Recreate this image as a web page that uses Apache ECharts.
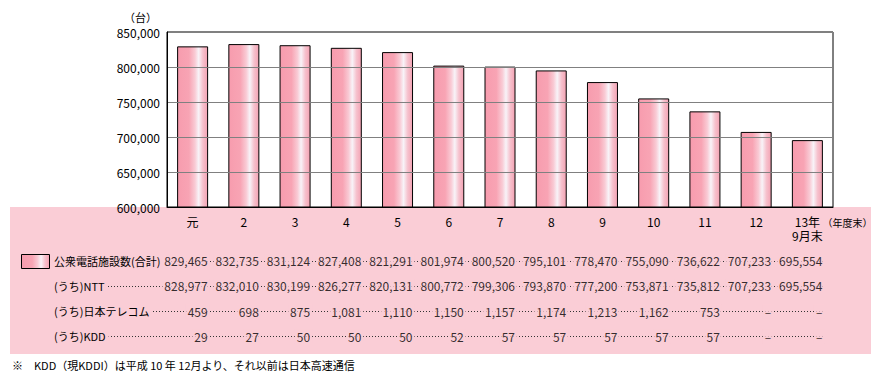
<!DOCTYPE html>
<html><head><meta charset="utf-8">
<script src="https://cdn.jsdelivr.net/npm/echarts@6/dist/echarts.min.js"></script>
<style>html,body{margin:0;padding:0;background:#fff}#c{width:882px;height:385px}</style>
</head><body><div id="c"></div>
<script>
// ---- data ----
const categories = ['元','2','3','4','5','6','7','8','9','10','11','12','13年\n9月末'];
const totalPhones = [829465, 832735, 831124, 827408, 821291, 801974, 800520, 795101, 778470, 755090, 736622, 707233, 695554];
const nttPhones   = [828977, 832010, 830199, 826277, 820131, 800772, 799306, 793870, 777200, 753871, 735812, 707233, 695554];
const jtPhones    = [459, 698, 875, 1081, 1110, 1150, 1157, 1174, 1213, 1162, 753, null, null];
const kddPhones   = [29, 27, 50, 50, 50, 52, 57, 57, 57, 57, 57, null, null];
const rowLabels = ['公衆電話施設数(合計)', '(うち)NTT', '(うち)日本テレコム', '(うち)KDD'];
const yMin = 600000, yMax = 850000, yInterval = 50000;
const unitLabel = '（台）';
const periodLabel = '（年度末）';
const footnote = '※　KDD（現KDDI）は平成 10 年 12月より、それ以前は日本高速通信';

// ---- style ----
const FONT = "'Noto Sans CJK JP', 'Noto Sans', sans-serif";
const PINK = '#facdd6';
const fmt = v => v == null ? '–' : v.toLocaleString('en-US');
const gradStops = [
  {offset: 0, color: '#f79cae'},
  {offset: 0.38, color: '#f8a4b4'},
  {offset: 0.58, color: '#f9cbd5'},
  {offset: 0.7, color: '#f8f3f8'},
  {offset: 0.84, color: '#f6c1cd'},
  {offset: 1, color: '#f4a2b3'}
];
const barGrad = new echarts.graphic.LinearGradient(0, 0, 1, 0, gradStops);

const tableRows = [totalPhones, nttPhones, jtPhones, kddPhones];
const tableData = [];
tableRows.forEach((row, r) => row.forEach((v, i) => tableData.push({value: [i, r], raw: v})));

const chart = echarts.init(document.getElementById('c'), null, {renderer: 'svg'});
chart.setOption({
  animation: false,
  textStyle: {fontFamily: FONT},
  grid: [
    {left: 167, right: 49, top: 32, bottom: 178, show: true, borderColor: '#000', borderWidth: 1, backgroundColor: '#fff', z: 3},
    {left: 167, right: 49, top: 248, height: 101}
  ],
  xAxis: [
    {type: 'category', gridIndex: 0, data: categories, z: 5,
     axisLine: {lineStyle: {color: '#000', width: 1}},
     axisTick: {inside: true, length: 5, lineStyle: {color: '#000'}},
     axisLabel: {color: '#000', fontSize: 12, margin: 7, lineHeight: 14, fontFamily: FONT}
    },
    {type: 'category', gridIndex: 1, data: categories, show: false}
  ],
  yAxis: [
    {type: 'value', gridIndex: 0, min: yMin, max: yMax, interval: yInterval, z: 5,
     axisLine: {show: true, lineStyle: {color: '#000'}},
     axisTick: {show: false},
     splitLine: {lineStyle: {color: '#808080', width: 1}},
     axisLabel: {color: '#000', fontSize: 12, margin: 7, formatter: v => fmt(v), fontFamily: FONT},
     name: unitLabel, nameLocation: 'end', nameGap: 10,
     nameTextStyle: {color: '#000', fontSize: 11, align: 'right', padding: [0, 10, 0, 0], fontFamily: FONT}
    },
    {type: 'category', gridIndex: 1, data: rowLabels, inverse: true, z: 10,
     axisLine: {show: false}, axisTick: {show: false}, splitLine: {show: false},
     axisLabel: {color: '#000', fontSize: 11, align: 'left', margin: 113, fontFamily: FONT,
       formatter: (v, i) => i === 0 ? '' : v, backgroundColor: PINK, padding: [1, 3, 1, 0]}
    }
  ],
  series: [
    {name: rowLabels[0], type: 'bar', xAxisIndex: 0, yAxisIndex: 0, data: totalPhones, barWidth: 31, z: 4,
     itemStyle: {color: barGrad, borderColor: '#000', borderWidth: 1}},
    {type: 'scatter', xAxisIndex: 1, yAxisIndex: 1, data: tableData, symbolSize: 0, z: 10, silent: true,
     label: {show: true, position: [17, 0], align: 'right', verticalAlign: 'middle', color: '#000', fontSize: 12,
       fontFamily: FONT, backgroundColor: PINK, padding: [1, 2], formatter: p => fmt(p.data.raw)}}
  ]
});

// table decorations: background, legend swatch, leaders, first row label, period note, footnote
const g = [];
g.push({type: 'rect', shape: {x: 10, y: 207, width: 861, height: 147}, style: {fill: PINK}, z: -10, silent: true});
const endX = chart.convertToPixel({xAxisIndex: 1}, categories.length - 1) + 17;
rowLabels.forEach((lab, r) => {
  const y = Math.round(chart.convertToPixel({yAxisIndex: 1}, r)) + 0.5;
  g.push({type: 'line', shape: {x1: 54, y1: y, x2: endX, y2: y},
    style: {stroke: '#333', lineWidth: 1, lineDash: [1, 2]}, z: 1, silent: true});
});
const y0 = chart.convertToPixel({yAxisIndex: 1}, 0);
g.push({type: 'rect', shape: {x: 21.5, y: Math.round(y0) - 6.5, width: 28, height: 14},
  style: {fill: new echarts.graphic.LinearGradient(0, 0, 1, 0, gradStops), stroke: '#000', lineWidth: 1}, z: 20});
g.push({type: 'text', left: 54, top: y0 - 8, z: 20,
  style: {text: rowLabels[0], fill: '#000', font: '11px ' + FONT, backgroundColor: PINK, padding: [1, 3, 1, 0], lineHeight: 14}});
const lastX = chart.convertToPixel({xAxisIndex: 0}, categories.length - 1);
g.push({type: 'text', x: lastX + 15, y: 222, z: 20,
  style: {text: periodLabel, fill: '#000', font: '10px ' + FONT, textVerticalAlign: 'middle', verticalAlign: 'middle'}});
g.push({type: 'text', left: 12, top: 359, z: 20,
  style: {text: footnote, fill: '#000', font: '11px ' + FONT}});
chart.setOption({graphic: g});
</script>
</body></html>
